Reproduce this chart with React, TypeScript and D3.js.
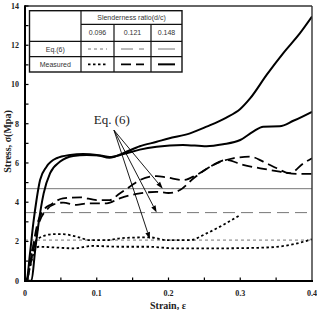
import React from "react";
import * as d3 from "d3";

// Measured stress-strain curves (strain, stress in MPa), two specimens per slenderness ratio
const solidA_x = [0, 0.002, 0.007, 0.0116, 0.016, 0.021, 0.03, 0.044, 0.063, 0.081, 0.1, 0.118, 0.137, 0.16, 0.1835, 0.2, 0.23, 0.253, 0.28, 0.3, 0.314, 0.337, 0.36, 0.383, 0.4];
const solidA_y = [0, 0, 1.4, 2.93, 4.1, 5.13, 5.81, 6.24, 6.41, 6.46, 6.41, 6.26, 6.5, 6.85, 7.08, 7.25, 7.51, 7.85, 8.3, 8.75, 9.3, 10.5, 11.6, 12.6, 13.46];

const solidB_x = [0, 0.009, 0.014, 0.019, 0.026, 0.035, 0.049, 0.067, 0.086, 0.105, 0.118, 0.137, 0.16, 0.1835, 0.22, 0.253, 0.276, 0.3, 0.318, 0.332, 0.355, 0.374, 0.4];
const solidB_y = [0, 0, 1.5, 2.94, 4.45, 5.48, 6.07, 6.36, 6.41, 6.38, 6.3, 6.45, 6.68, 6.83, 6.92, 6.85, 6.95, 7.17, 7.6, 7.85, 7.87, 8.15, 8.61];

const dashA_x = [0.003, 0.01, 0.018, 0.026, 0.037, 0.053, 0.077, 0.1, 0.118, 0.132, 0.146, 0.16, 0.1835, 0.197, 0.221, 0.239, 0.267, 0.29, 0.314, 0.332, 0.351, 0.369, 0.388, 0.4];
const dashA_y = [0, 1.5, 3.0, 3.6, 3.9, 4.2, 4.25, 4.11, 4.11, 4.45, 4.79, 5.13, 5.33, 5.27, 5.13, 5.39, 5.98, 6.24, 6.32, 6.07, 5.73, 5.48, 5.98, 6.24];

const dashB_x = [0.003, 0.012, 0.02, 0.03, 0.044, 0.053, 0.072, 0.086, 0.114, 0.132, 0.16, 0.1835, 0.2, 0.216, 0.235, 0.258, 0.281, 0.304, 0.328, 0.355, 0.379, 0.4];
const dashB_y = [0, 1.6, 3.0, 3.6, 3.94, 3.98, 3.86, 3.94, 3.94, 4.2, 4.45, 4.53, 4.47, 4.62, 5.22, 5.81, 6.15, 5.9, 5.73, 5.56, 5.44, 5.44];

const dotA_x = [0.003, 0.008, 0.013, 0.019, 0.039, 0.053, 0.072, 0.091, 0.114, 0.132, 0.155, 0.174, 0.197, 0.23, 0.253, 0.276, 0.3];
const dotA_y = [0, 1.2, 1.9, 2.16, 2.37, 2.37, 2.24, 2.07, 2.07, 2.16, 2.2, 2.21, 2.07, 2.07, 2.41, 2.84, 3.35];

const dotB_x = [0.003, 0.009, 0.014, 0.019, 0.039, 0.067, 0.095, 0.132, 0.174, 0.207, 0.267, 0.328, 0.369, 0.4];
const dotB_y = [0, 1.0, 1.6, 1.73, 1.7, 1.65, 1.77, 1.73, 1.73, 1.65, 1.65, 1.68, 1.82, 2.11];

// Eq.(6) predicted stress for each slenderness ratio
const ratios = ["0.096", "0.121", "0.148"];
const eqStress = [2.07, 3.47, 4.69];

// Arrow annotation: label anchor and the points it points to (strain, stress)
const noteAnchor = [0.124, 7.67];
const noteLabel = [0.121, 7.99];
const noteTips = [[0.192, 4.69], [0.1835, 3.47], [0.174, 2.12]];

const xTicks = [0, 0.1, 0.2, 0.3, 0.4];
const xMinor = [0.05, 0.15, 0.25, 0.35];
const yTicks = [0, 2, 4, 6, 8, 10, 12, 14];
const yMinor = [1, 3, 5, 7, 9, 11, 13];

const W = 317, H = 310;
const x = d3.scaleLinear().domain([0, 0.4]).range([25, 312]);
const y = d3.scaleLinear().domain([0, 14]).range([280.7, 6]);

const line = d3
  .line<[number, number]>()
  .x((d) => x(d[0]))
  .y((d) => y(d[1]))
  .curve(d3.curveMonotoneX);

const zip = (a: number[], b: number[]) => a.map((v, i) => [v, b[i]] as [number, number]);

const eqStyles = [
  { dash: "3,3", width: 1 },
  { dash: "12,6", width: 1 },
  { dash: "none", width: 1 },
];
const measStyles = [
  { dash: "2.5,2.5", width: 1.8 },
  { dash: "10,5", width: 1.8 },
  { dash: "none", width: 2 },
];

const serif = "'Liberation Serif', 'Times New Roman', serif";
const sans = "'Liberation Sans', Arial, sans-serif";

function Table() {
  const cols = [29.5, 81, 114, 151, 182];
  const rows = [10.7, 24.3, 41.3, 56.7, 72];
  const c = "#111";
  const txt = "#333";
  const segs: JSX.Element[] = [];
  for (let i = 0; i < 3; i++) {
    const x0 = cols[i + 1] + 7;
    const x1 = cols[i + 2] - 7;
    segs.push(
      <line key={"e" + i} x1={x0} x2={x1} y1={(rows[2] + rows[3]) / 2} y2={(rows[2] + rows[3]) / 2}
        stroke="#777" strokeWidth={eqStyles[i].width} strokeDasharray={eqStyles[i].dash} />
    );
    segs.push(
      <line key={"m" + i} x1={x0} x2={x1} y1={(rows[3] + rows[4]) / 2} y2={(rows[3] + rows[4]) / 2}
        stroke="#000" strokeWidth={measStyles[i].width} strokeDasharray={measStyles[i].dash} />
    );
  }
  return (
    <g>
      <rect x={cols[0]} y={rows[0]} width={cols[4] - cols[0]} height={rows[4] - rows[0]} fill="#fff" stroke={c} strokeWidth={1.4} />
      <line x1={cols[1]} x2={cols[1]} y1={rows[0]} y2={rows[4]} stroke={c} strokeWidth={1.2} />
      <line x1={cols[2]} x2={cols[2]} y1={rows[1]} y2={rows[4]} stroke={c} strokeWidth={1.2} />
      <line x1={cols[3]} x2={cols[3]} y1={rows[1]} y2={rows[4]} stroke={c} strokeWidth={1.2} />
      <line x1={cols[1]} x2={cols[4]} y1={rows[1]} y2={rows[1]} stroke={c} strokeWidth={1.2} />
      <line x1={cols[0]} x2={cols[4]} y1={rows[2]} y2={rows[2]} stroke={c} strokeWidth={1.2} />
      <line x1={cols[0]} x2={cols[4]} y1={rows[3]} y2={rows[3]} stroke={c} strokeWidth={1.2} />
      <g fontFamily={sans} fontSize={7} fill={txt} textAnchor="middle">
        <text x={(cols[1] + cols[4]) / 2} y={20}>Slenderness ratio(d/c)</text>
        {ratios.map((r, i) => (
          <text key={r} x={(cols[i + 1] + cols[i + 2]) / 2} y={35.3}>{r}</text>
        ))}
        <text x={(cols[0] + cols[1]) / 2} y={51.5}>Eq.(6)</text>
        <text x={(cols[0] + cols[1]) / 2} y={66.8}>Measured</text>
      </g>
      {segs}
    </g>
  );
}

function Arrow({ from, to }: { from: number[]; to: number[] }) {
  const x0 = x(from[0]), y0 = y(from[1]);
  const x1 = x(to[0]), y1 = y(to[1]);
  const ang = Math.atan2(y1 - y0, x1 - x0);
  const L = 7, Wd = 2.4;
  const bx = x1 - L * Math.cos(ang), by = y1 - L * Math.sin(ang);
  const px = -Math.sin(ang) * Wd, py = Math.cos(ang) * Wd;
  return (
    <g>
      <line x1={x0} y1={y0} x2={bx} y2={by} stroke="#000" strokeWidth={0.9} />
      <polygon points={`${x1},${y1} ${bx + px},${by + py} ${bx - px},${by - py}`} fill="#000" />
    </g>
  );
}

export default function App() {
  const measured = [
    { data: zip(dotA_x, dotA_y), s: measStyles[0] },
    { data: zip(dotB_x, dotB_y), s: measStyles[0] },
    { data: zip(dashA_x, dashA_y), s: measStyles[1] },
    { data: zip(dashB_x, dashB_y), s: measStyles[1] },
    { data: zip(solidA_x, solidA_y), s: measStyles[2] },
    { data: zip(solidB_x, solidB_y), s: measStyles[2] },
  ];
  return (
    <svg width={W} height={H} style={{ position: "absolute", left: 0, top: 0, background: "#fff" }}>
      <defs>
        <clipPath id="plot">
          <rect x={25} y={6} width={287} height={275} />
        </clipPath>
      </defs>
      <rect x={0} y={0} width={W} height={H} fill="#fff" />

      {/* Eq.(6) predictions */}
      {eqStress.map((v, i) => (
        <line key={i} x1={x(0)} x2={x(0.4)} y1={y(v)} y2={y(v)} stroke="#777"
          strokeWidth={eqStyles[i].width} strokeDasharray={eqStyles[i].dash} />
      ))}

      {/* measured curves */}
      <g clipPath="url(#plot)" fill="none" stroke="#000">
        {measured.map((m, i) => (
          <path key={i} d={line(m.data) || ""} strokeWidth={m.s.width} strokeDasharray={m.s.dash} strokeLinejoin="round" />
        ))}
      </g>

      {/* frame */}
      <line x1={25} x2={312} y1={6} y2={6} stroke="#333" strokeWidth={1.4} />
      <line x1={312} x2={312} y1={6} y2={281} stroke="#333" strokeWidth={1.4} />
      <line x1={25} x2={25} y1={5.3} y2={281.7} stroke="#000" strokeWidth={2} />
      <line x1={24} x2={313} y1={281} y2={281} stroke="#000" strokeWidth={2} />

      {/* ticks */}
      {[...yTicks, ...yMinor].map((t) => (
        <line key={"yt" + t} x1={25} x2={28.5} y1={y(t)} y2={y(t)} stroke="#000" strokeWidth={1.2} />
      ))}
      {xMinor.concat(xTicks.slice(1, 4)).map((t) => (
        <line key={"xt" + t} x1={x(t)} x2={x(t)} y1={281} y2={277.5} stroke="#000" strokeWidth={1.2} />
      ))}

      <g fontFamily={serif} fontWeight="bold" fontSize={8} fill="#222">
        {yTicks.map((t) => (
          <text key={"yl" + t} x={19} y={y(t) + 3} textAnchor="end">{t}</text>
        ))}
        {xTicks.map((t) => (
          <text key={"xl" + t} x={x(t)} y={296} textAnchor="middle">{t === 0 ? "0" : String(t)}</text>
        ))}
      </g>

      <text transform="translate(11,141.5) rotate(-90)" textAnchor="middle" fontFamily={serif} fontWeight="bold" fontSize={10} fill="#222">
        Stress, σ(Mpa)
      </text>
      <text x={168} y={309} textAnchor="middle" fontFamily={serif} fontWeight="bold" fontSize={10} fill="#222">
        Strain, ε
      </text>

      {/* annotation */}
      <text x={x(noteLabel[0])} y={y(noteLabel[1])} textAnchor="middle" fontFamily={serif} fontSize={13} fill="#222">
        Eq. (6)
      </text>
      {noteTips.map((t, i) => (
        <Arrow key={i} from={noteAnchor} to={t} />
      ))}

      <Table />
    </svg>
  );
}
